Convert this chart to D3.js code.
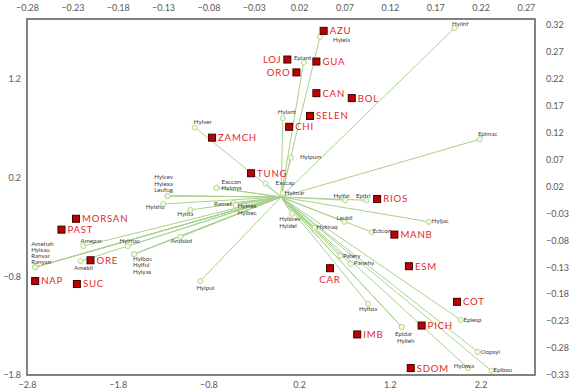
<!DOCTYPE html>
<html>
<head>
<meta charset="utf-8">
<script src="https://cdn.jsdelivr.net/npm/d3@7.9.0/dist/d3.min.js"></script>
<style>
  body { margin: 0; background: #fff; }
  svg { display: block; }
  .tick text { font-family: Lato, "Open Sans", sans-serif; font-size: 9px; fill: #595959; }
</style>
</head>
<body>
<svg width="570" height="392"></svg>
<script>
// sites (primary axes: bottom / left)
const siteNames = ['AZU', 'LOJ', 'GUA', 'ORO', 'CAN', 'BOL', 'SELEN', 'CHI', 'ZAMCH', 'TUNG',
  'RIOS', 'MANB', 'ESM', 'CAR', 'COT', 'PICH', 'IMB', 'SDOM', 'MORSAN', 'PAST', 'ORE', 'NAP', 'SUC'];
const siteX = [0.47, 0.07, 0.39, 0.17, 0.39, 0.78, 0.32, 0.09, -0.76, -0.33,
  1.06, 1.25, 1.41, 0.54, 1.94, 1.55, 0.84, 1.43, -2.26, -2.42, -2.10, -2.71, -2.25];
const siteY = [1.68, 1.39, 1.37, 1.26, 1.05, 1.00, 0.82, 0.71, 0.60, 0.24,
  -0.02, -0.38, -0.70, -0.72, -1.06, -1.30, -1.39, -1.73, -0.22, -0.33, -0.64, -0.85, -0.88];

// species (secondary axes: top / right)
const speciesNames = ['Hylinf', 'Epimac', 'Hylela', 'Epiant', 'Hylant', 'Hylver', 'Hylpum', 'Exccap', 'Hylmar',
  'Exccon', 'Hylmys', 'Ranret', 'Hylnex', 'Hylbec', 'Hylfal', 'Epitri', 'Leubil', 'Ectcon', 'Hylbrev', 'Hyldel',
  'Hylmaq', 'Hyljac', 'Patery', 'Parwhy', 'Hyltoa', 'Epidar', 'Hylleh', 'Epiesp', 'Oopsyl', 'Hylawa', 'Epibou',
  'Hylcev', 'Hylexa', 'Leufug', 'Hylshu', 'Hylita', 'Andabd', 'Amepar', 'Hylmac', 'Hylboc', 'Hylful', 'Hylyas',
  'Amehah', 'Hylsau', 'Ranvar', 'Ranyan', 'Amebil', 'Hylpul'];
const speciesX = [0.191, 0.219, 0.043, 0.025, 0.002, -0.095, 0.011, -0.017, 0.002,
  -0.071, -0.071, -0.052, -0.050, -0.050, 0.071, 0.094, 0.070, 0.100, 0.012, 0.012,
  0.037, 0.163, 0.065, 0.077, 0.096, 0.133, 0.133, 0.198, 0.217, 0.206, 0.232,
  -0.125, -0.125, -0.125, -0.130, -0.100, -0.111, -0.218, -0.169, -0.162, -0.162, -0.162,
  -0.271, -0.271, -0.271, -0.271, -0.221, -0.089];
const speciesY = [0.313, 0.107, 0.297, 0.250, 0.146, 0.129, 0.073, 0.025, 0.007,
  0.017, 0.017, -0.011, -0.015, -0.015, -0.006, -0.006, -0.046, -0.065, -0.031, -0.031,
  -0.057, -0.046, -0.109, -0.124, -0.198, -0.241, -0.241, -0.228, -0.287, -0.317, -0.322,
  0.002, 0.002, 0.002, -0.013, -0.024, -0.074, -0.091, -0.091, -0.106, -0.106, -0.106,
  -0.130, -0.130, -0.130, -0.130, -0.119, -0.156];

const bottomTicks = [-2.8, -1.8, -0.8, 0.2, 1.2, 2.2];
const leftTicks = [-1.8, -0.8, 0.2, 1.2];
const topTicks = [-0.28, -0.23, -0.18, -0.13, -0.08, -0.03, 0.02, 0.07, 0.12, 0.17, 0.22, 0.27];
const rightTicks = [0.32, 0.27, 0.22, 0.17, 0.12, 0.07, 0.02, -0.03, -0.08, -0.13, -0.18, -0.23, -0.28, -0.33];

// label placement (layout only)
const siteLabelSide = { LOJ: 'left', ORO: 'left', CAR: 'below' };
const speciesLabel = {
  Hylinf: [6, -4, 'middle'], Epimac: [8, -5, 'middle'], Hylela: [13, 4, 'start'], Epiant: [-1, -4, 'middle'],
  Hylant: [4, -6, 'middle'], Hylver: [8, -5, 'middle'], Hylpum: [9, 0, 'start'], Exccap: [10, 0, 'start'],
  Hylmar: [2, 0, 'start'], Exccon: [5, -5, 'start'], Hylmys: [5, 1, 'start'], Ranret: [-2, 2, 'end'],
  Hylnex: [2, 1, 'start'], Hylbec: [2, 8, 'start'], Hylfal: [-4, -4, 'middle'], Epitri: [-3, -4, 'middle'],
  Leubil: [0, -3, 'middle'], Ectcon: [1, -1, 'start'], Hylbrev: [-2, 6, 'middle'], Hyldel: [-4, 13, 'middle'],
  Hylmaq: [2, 0, 'start'], Hyljac: [3, 0, 'start'], Patery: [3, 1, 'start'], Parwhy: [3, 0, 'start'],
  Hyltoa: [0, 6, 'middle'], Epidar: [2, 7, 'middle'], Hylleh: [4, 14, 'middle'], Epiesp: [3, 0, 'start'],
  Oopsyl: [3, 1, 'start'], Hylawa: [-4, -2, 'middle'], Epibou: [2, 0, 'start'],
  Hylcev: [-4, -18, 'middle'], Hylexa: [-4, -11.5, 'middle'], Leufug: [-4, -5, 'middle'], Hylshu: [-8, 3, 'middle'],
  Hylita: [-5, 4, 'middle'], Andabd: [1, 5, 'middle'], Amepar: [8, -5, 'middle'], Hylmac: [2, -5, 'middle'],
  Hylboc: [-1, 5, 'start'], Hylful: [-1, 11.5, 'start'], Hylyas: [-1, 18, 'start'],
  Amehah: [-4, -23, 'start'], Hylsau: [-4, -17, 'start'], Ranvar: [-4, -11, 'start'], Ranyan: [-4, -5, 'start'],
  Amebil: [3, 7, 'middle'], Hylpul: [5, 7, 'middle']
};

const plotL = 27, plotR = 535, plotT = 19, plotB = 375;
const x1 = d3.scaleLinear().domain([-2.8, 2.8]).range([plotL, plotR]);
const y1 = d3.scaleLinear().domain([-1.8, 1.8]).range([plotB, plotT]);
const x2 = d3.scaleLinear().domain([-0.28, 0.28]).range([plotL, plotR]);
const y2 = d3.scaleLinear().domain([-0.33, 0.33]).range([plotB, plotT]);

const svg = d3.select('svg');

// axes
function styleAxis(g) {
  g.select('.domain').remove();
  g.selectAll('.tick line').remove();
}
svg.append('g').attr('transform', `translate(0,${plotB + 4})`)
  .call(d3.axisBottom(x1).tickValues(bottomTicks).tickSize(0).tickFormat(d3.format('.1f')))
  .call(styleAxis);
svg.append('g').attr('transform', `translate(${plotL - 3},0)`)
  .call(d3.axisLeft(y1).tickValues(leftTicks).tickSize(0).tickFormat(d3.format('.1f')))
  .call(styleAxis);
svg.append('g').attr('transform', `translate(0,${plotT - 5})`)
  .call(d3.axisTop(x2).tickValues(topTicks).tickSize(0).tickFormat(d3.format('.2f')))
  .call(styleAxis);
svg.append('g').attr('transform', `translate(${plotR + 8},0)`)
  .call(d3.axisRight(y2).tickValues(rightTicks).tickSize(0).tickFormat(d3.format('.2f')))
  .call(styleAxis);

svg.append('rect')
  .attr('x', plotL).attr('y', plotT)
  .attr('width', plotR - plotL).attr('height', plotB - plotT)
  .attr('fill', 'none').attr('stroke', '#595959').attr('stroke-width', 1.5);

// species vectors
const species = speciesNames.map((name, i) => ({ name, x: speciesX[i], y: speciesY[i] }));
const sites = siteNames.map((name, i) => ({ name, x: siteX[i], y: siteY[i] }));

svg.append('g').selectAll('line').data(species).join('line')
  .attr('x1', x2(0)).attr('y1', y2(0))
  .attr('x2', d => x2(d.x)).attr('y2', d => y2(d.y))
  .attr('stroke', '#a9d18e').attr('stroke-width', 1);

svg.append('g').selectAll('circle').data(species).join('circle')
  .attr('cx', d => x2(d.x)).attr('cy', d => y2(d.y))
  .attr('r', 2.6)
  .attr('fill', '#f3f9e6').attr('stroke', '#b9dc8f').attr('stroke-width', 1);

svg.append('g').selectAll('text').data(species).join('text')
  .attr('x', d => x2(d.x) + speciesLabel[d.name][0])
  .attr('y', d => y2(d.y) + speciesLabel[d.name][1])
  .attr('text-anchor', d => speciesLabel[d.name][2])
  .attr('dominant-baseline', 'middle')
  .attr('font-family', 'Lato, "Open Sans", sans-serif')
  .attr('font-size', 6.2)
  .attr('fill', '#404040')
  .text(d => d.name);

// sites
svg.append('g').selectAll('rect').data(sites).join('rect')
  .attr('x', d => x1(d.x) - 3.5).attr('y', d => y1(d.y) - 3.5)
  .attr('width', 7).attr('height', 7)
  .attr('fill', '#c00000').attr('stroke', '#3a0000').attr('stroke-width', 1);

svg.append('g').selectAll('text').data(sites).join('text')
  .attr('x', d => {
    const side = siteLabelSide[d.name];
    if (side === 'left') return x1(d.x) - 6;
    if (side === 'below') return x1(d.x);
    return x1(d.x) + 6;
  })
  .attr('y', d => siteLabelSide[d.name] === 'below' ? y1(d.y) + 12 : y1(d.y) + 1)
  .attr('text-anchor', d => {
    const side = siteLabelSide[d.name];
    return side === 'left' ? 'end' : side === 'below' ? 'middle' : 'start';
  })
  .attr('dominant-baseline', 'middle')
  .attr('font-family', 'Lato, "Open Sans", sans-serif')
  .attr('font-size', 9.6)
  .attr('letter-spacing', 0.8)
  .attr('fill', '#e3262b')
  .text(d => d.name);
</script>
</body>
</html>
